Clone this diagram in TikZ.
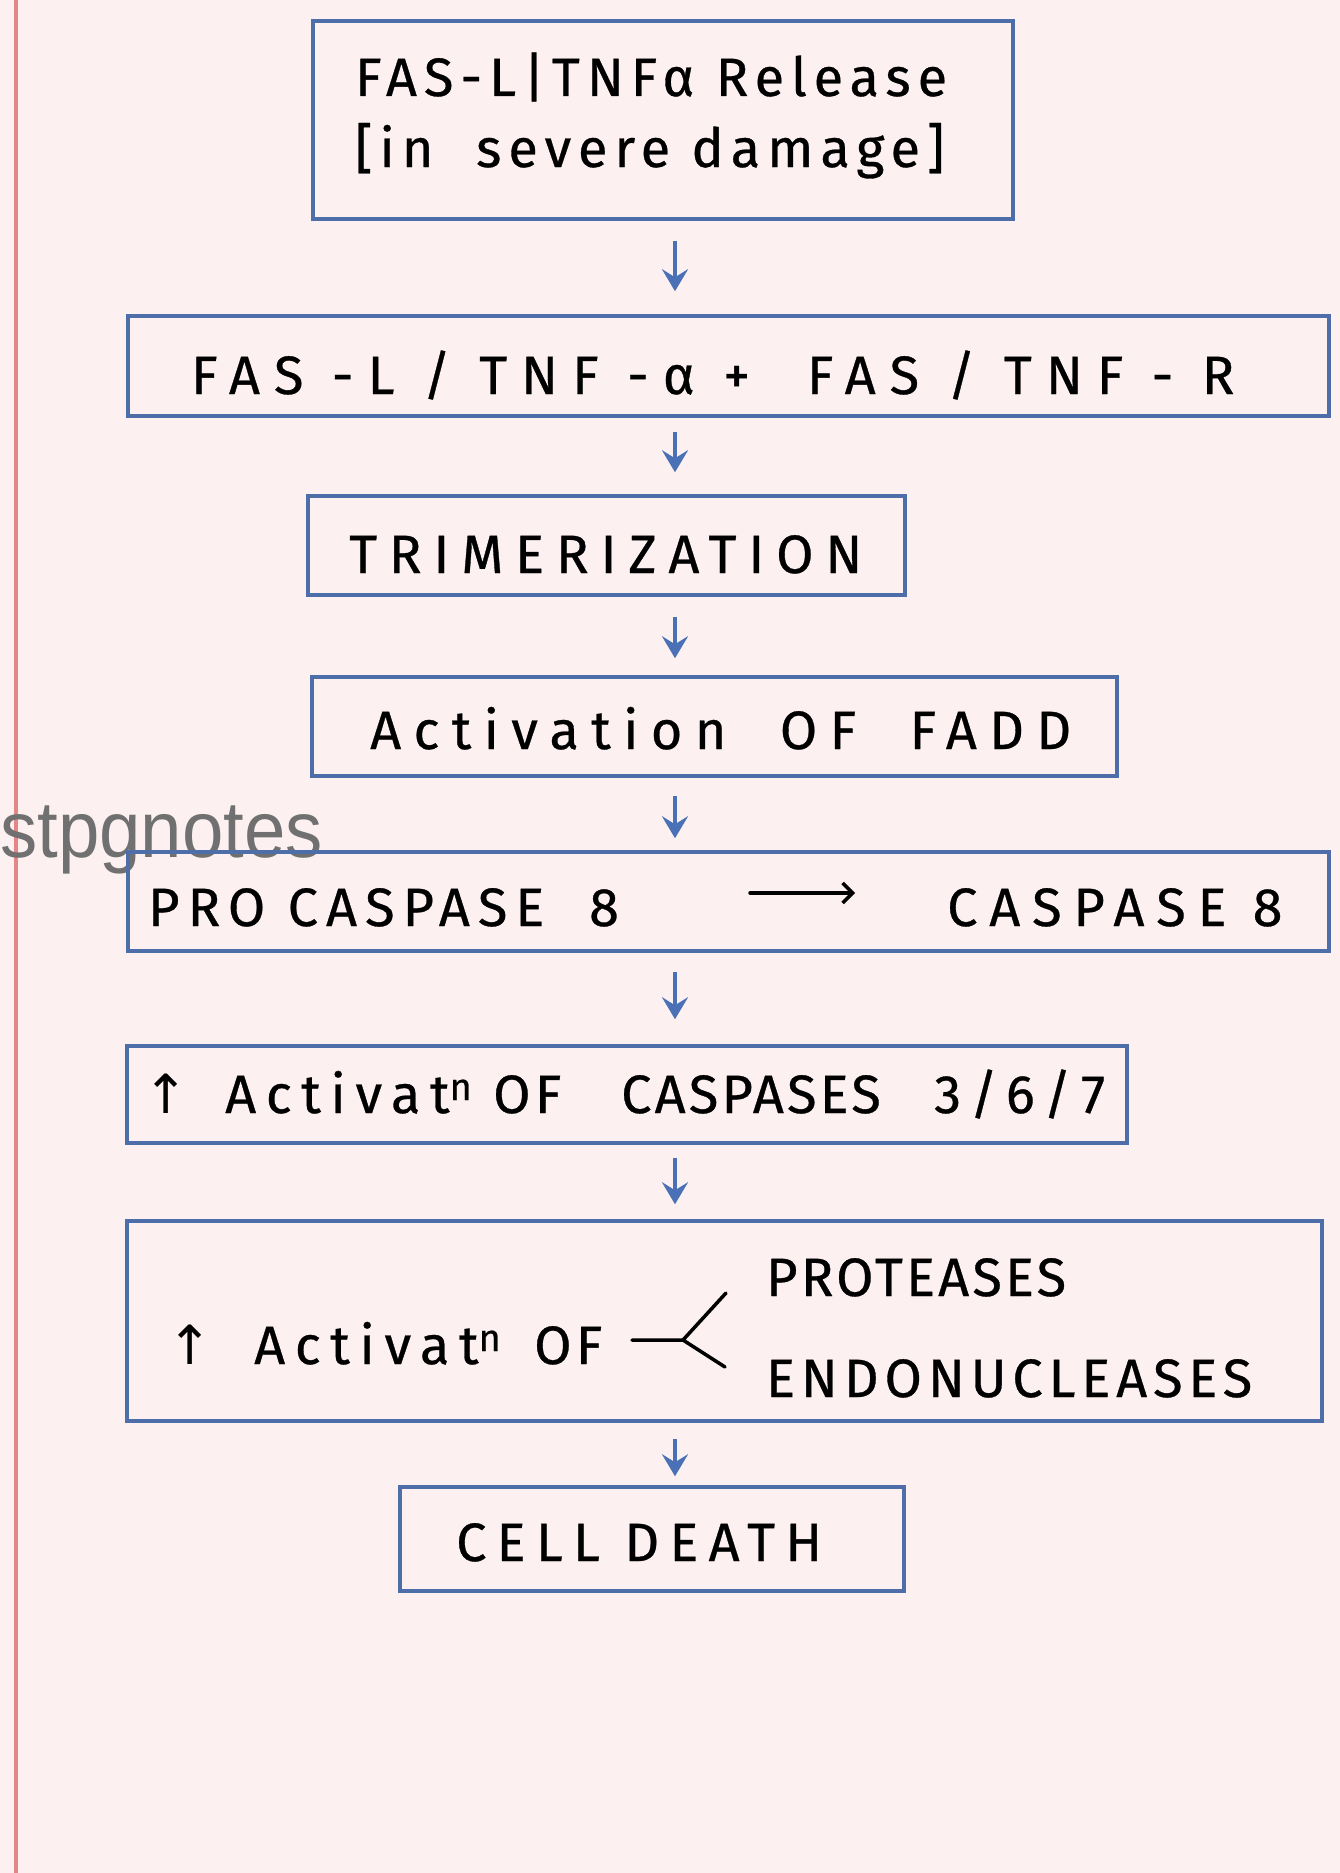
\documentclass[tikz,border=0pt]{standalone}
\usepackage{fontspec}
\setmainfont{Fira Sans}[LetterSpace=10,FakeBold=0.6]
\newfontfamily\wmfont{Liberation Sans}
\newfontfamily\symfont{DejaVu Sans}
\usetikzlibrary{arrows.meta}
\definecolor{bg}{HTML}{FCF0F0}
\definecolor{boxc}{HTML}{4D6EA8}
\definecolor{arrc}{HTML}{4A70B5}
\definecolor{redl}{HTML}{E58585}
\definecolor{wmc}{HTML}{707070}
\newcommand\supn{\raisebox{13pt}{\fontsize{38}{40}\selectfont n}}
\begin{document}
\begin{tikzpicture}[x=1pt,y=-1pt,
  box/.style={draw=boxc, line width=3.5pt, inner sep=0pt},
  txt/.style={anchor=base west, inner sep=0pt, font=\fontsize{54}{64}\selectfont\addfontfeature{LetterSpace=#1}},
  txt/.default=10,
  arr/.style={draw=arrc, line width=4.5pt, -{Stealth[length=22pt,width=26pt,inset=8pt]}},
  ink/.style={draw=black, line width=3.5pt, line cap=round}]
\path[fill=bg, use as bounding box] (0,0) rectangle (1340,1873);
\draw[redl, line width=4pt] (16,0) -- (16,1873);
% watermark
\node[anchor=base west, inner sep=0pt, text=wmc, font=\wmfont\fontsize{80}{90}\selectfont] (wm) at (0,857) {\scalebox{0.93}[1]{stpgnotes}};
% boxes
\node[box, minimum width=700pt, minimum height=198pt] (b1) at (663,120) {};
\node[box, minimum width=1201pt, minimum height=100pt] (b2) at (728.5,366) {};
\node[box, minimum width=597pt, minimum height=99pt] (b3) at (606.5,545.5) {};
\node[box, minimum width=805pt, minimum height=99pt] (b4) at (714.5,726.5) {};
\node[box, minimum width=1201pt, minimum height=99pt] (b5) at (728.5,901.5) {};
\node[box, minimum width=1000pt, minimum height=97pt] (b6) at (627,1094.5) {};
\node[box, minimum width=1195pt, minimum height=200pt] (b7) at (724.5,1321) {};
\node[box, minimum width=504pt, minimum height=104pt] (b8) at (652,1539) {};
% texts
\node[txt=13] (t1a) at (355,96) {FAS-L|TNFα Release};
\node[txt=13] (t1b) at (355,167) {[in\ \ severe damage]};
\node[txt=26] (t2) at (191,394) {FAS -L / TNF -α +\ \ FAS / TNF - R};
\node[txt=22] (t3) at (349,573) {TRIMERIZATION};
\node[txt=23] (t4) at (370,749) {Activation\ \ OF\ \ FADD};
\node[txt=15] (t5a) at (148,926) {PRO CASPASE\ \ 8};
\node[txt=22] (t5b) at (947,926) {CASPASE\ 8};
\node[txt] (t6u) at (143,1113) {{\symfont ↑}};
\node[txt=18] (t6a) at (225,1113) {Activat\supn};
\node[txt=8] (t6b) at (493,1113) {OF};
\node[txt=6] (t6c) at (621,1113) {CASPASES};
\node[txt=18] (t6d) at (934,1113) {3/6/7};
\node[txt] (t7u) at (167,1364) {{\symfont ↑}};
\node[txt=18] (t7) at (254,1364) {Activat\supn};
\node[txt=8] (t7o) at (534,1364) {OF};
\node[txt=6] (t7a) at (766,1296) {PROTEASES};
\node[txt=11] (t7b) at (766,1397) {ENDONUCLEASES};
\node[txt=19] (t8) at (456,1561) {CELL DEATH};
% inner arrow and fork
\coordinate (ia) at (750,893);
\coordinate (ib) at (855,893);
\draw[ink, -{Straight Barb[length=10pt,width=20pt]}] (ia) -- (ib);
\coordinate (f0) at (632,1340);
\coordinate (f1) at (683,1340);
\coordinate (fu) at (726,1293);
\coordinate (fd) at (725,1367);
\draw[ink] (f0) -- (f1) -- (fu);
\draw[ink] (f1) -- (fd);
% flow arrows
\coordinate (ax) at (675,0);
\draw[arr, shorten <=20pt, shorten >=23pt] (b1.south -| ax) -- (b2.north -| ax);
\draw[arr, shorten <=14pt, shorten >=22pt] (b2.south -| ax) -- (b3.north -| ax);
\draw[arr, shorten <=20pt, shorten >=17pt] (b3.south -| ax) -- (b4.north -| ax);
\draw[arr, shorten <=18pt, shorten >=12pt] (b4.south -| ax) -- (b5.north -| ax);
\draw[arr, shorten <=19pt, shorten >=25pt] (b5.south -| ax) -- (b6.north -| ax);
\draw[arr, shorten <=13pt, shorten >=15pt] (b6.south -| ax) -- (b7.north -| ax);
\draw[arr, shorten <=16pt, shorten >=9pt] (b7.south -| ax) -- (b8.north -| ax);
\end{tikzpicture}
\end{document}
